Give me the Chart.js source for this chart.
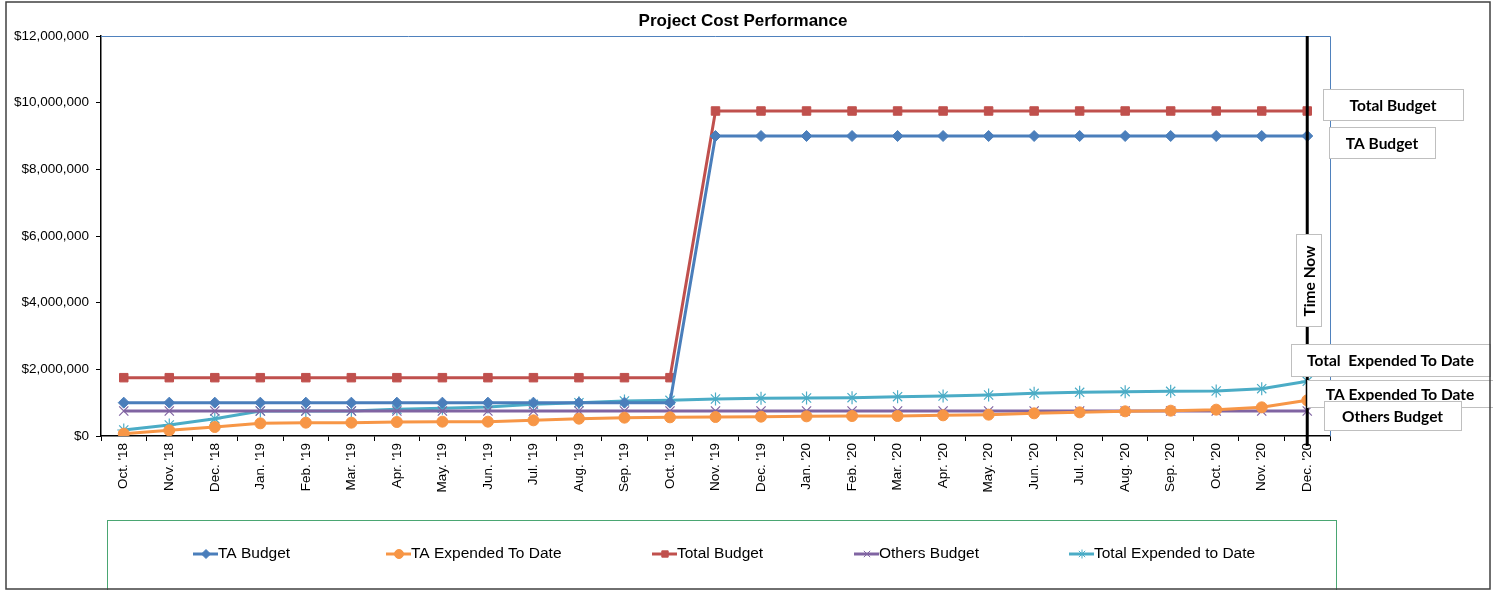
<!DOCTYPE html>
<html>
<head>
<meta charset="utf-8">
<script src="https://cdn.jsdelivr.net/npm/chart.js@4/dist/chart.umd.min.js"></script>
<style>
  html, body { margin: 0; padding: 0; background: #fff; }
  #wrap { width: 1493px; height: 590px; position: relative; }
</style>
</head>
<body>
<div id="wrap"><canvas id="myChart" width="1493" height="590"></canvas></div>
<script>
const meses = ["Oct. '18", "Nov. '18", "Dec. '18", "Jan. '19", "Feb. '19", "Mar. '19", "Apr. '19", "May. '19", "Jun. '19",
  "Jul. '19", "Aug. '19", "Sep. '19", "Oct. '19", "Nov. '19", "Dec. '19", "Jan. '20", "Feb. '20", "Mar. '20",
  "Apr. '20", "May. '20", "Jun. '20", "Jul. '20", "Aug. '20", "Sep. '20", "Oct. '20", "Nov. '20", "Dec. '20"];

const taBudget = [1000000, 1000000, 1000000, 1000000, 1000000, 1000000, 1000000, 1000000, 1000000,
  1000000, 1000000, 1000000, 1000000, 9000000, 9000000, 9000000, 9000000, 9000000,
  9000000, 9000000, 9000000, 9000000, 9000000, 9000000, 9000000, 9000000, 9000000];

const taExpended = [70000, 170000, 270000, 380000, 400000, 400000, 420000, 430000, 430000,
  470000, 520000, 550000, 560000, 570000, 580000, 590000, 600000, 600000,
  620000, 640000, 680000, 710000, 740000, 760000, 790000, 860000, 1070000];

const totalBudget = [1750000, 1750000, 1750000, 1750000, 1750000, 1750000, 1750000, 1750000, 1750000,
  1750000, 1750000, 1750000, 1750000, 9750000, 9750000, 9750000, 9750000, 9750000,
  9750000, 9750000, 9750000, 9750000, 9750000, 9750000, 9750000, 9750000, 9750000];

const othersBudget = [750000, 750000, 750000, 750000, 750000, 750000, 750000, 750000, 750000,
  750000, 750000, 750000, 750000, 750000, 750000, 750000, 750000, 750000,
  750000, 750000, 750000, 750000, 750000, 750000, 750000, 750000, 750000];

const totalExpended = [180000, 330000, 520000, 750000, 750000, 750000, 800000, 830000, 870000,
  950000, 1000000, 1050000, 1070000, 1110000, 1130000, 1140000, 1150000, 1180000,
  1200000, 1230000, 1280000, 1310000, 1330000, 1340000, 1350000, 1420000, 1640000];

const yTicks = [0, 2000000, 4000000, 6000000, 8000000, 10000000, 12000000];

const series = [
  { label: 'TA Budget', data: taBudget, color: '#4a7ebb', punto: 'rectRot', r: 5.5 },
  { label: 'TA Expended To Date', data: taExpended, color: '#f79646', punto: 'circle', r: 5.5 },
  { label: 'Total Budget', data: totalBudget, color: '#c0504d', punto: 'rect', r: 6 },
  { label: 'Others Budget', data: othersBudget, color: '#8064a2', punto: 'crossRot', r: 6.5 },
  { label: 'Total Expended to Date', data: totalExpended, color: '#4bacc6', punto: 'star', r: 6.5 }
];

// etiquetas a la derecha
const cajas = [
  { text: 'Total Budget', x: 1323, y: 89, w: 140, h: 31 },
  { text: 'TA Budget', x: 1329, y: 127, w: 106, h: 31 },
  { text: 'Total  Expended To Date', x: 1291, y: 344, w: 199, h: 32 },
  { text: 'TA Expended To Date', x: 1307, y: 380, w: 186, h: 27 },
  { text: 'Others Budget', x: 1324, y: 401, w: 137, h: 29 }
];

const extras = {
  id: 'extras',
  afterDraw(chart) {
    const ctx = chart.ctx;
    const a = chart.chartArea;
    const xs = chart.scales.x;
    ctx.save();

    // borde del area de trazado (arriba y derecha)
    ctx.strokeStyle = '#4f81bd';
    ctx.lineWidth = 1;
    ctx.beginPath();
    ctx.moveTo(a.left, a.top + 0.5);
    ctx.lineTo(a.right + 0.5, a.top + 0.5);
    ctx.lineTo(a.right + 0.5, a.bottom);
    ctx.stroke();

    // titulo
    ctx.fillStyle = '#000';
    ctx.font = 'bold 17px "Liberation Sans", Arial, sans-serif';
    ctx.textAlign = 'center';
    ctx.textBaseline = 'middle';
    ctx.fillText('Project Cost Performance', 743, 21);

    // linea Time Now
    const xNow = xs.getPixelForValue(meses.length - 1);
    ctx.strokeStyle = '#000';
    ctx.lineWidth = 3;
    ctx.beginPath();
    ctx.moveTo(xNow, a.top);
    ctx.lineTo(xNow, a.bottom + 10);
    ctx.stroke();

    ctx.font = 'bold 15.5px Lato, "Open Sans", sans-serif';
    ctx.lineWidth = 1;
    ctx.strokeStyle = '#bfbfbf';
    ctx.fillStyle = '#fff';
    ctx.fillRect(1296, 234, 26, 93);
    ctx.strokeRect(1296.5, 234.5, 25, 92);
    ctx.save();
    ctx.translate(1310, 281);
    ctx.rotate(-Math.PI / 2);
    ctx.fillStyle = '#000';
    ctx.fillText('Time Now', 0, 0);
    ctx.restore();

    cajas.forEach(c => {
      ctx.fillStyle = '#fff';
      ctx.fillRect(c.x, c.y, c.w, c.h);
      ctx.strokeStyle = '#bfbfbf';
      ctx.strokeRect(c.x + 0.5, c.y + 0.5, c.w, c.h);
      ctx.fillStyle = '#000';
      ctx.fillText(c.text, c.x + c.w / 2, c.y + c.h / 2 + 1);
    });

    // leyenda
    ctx.strokeStyle = '#4aa672';
    ctx.strokeRect(107.5, 520.5, 1229, 80);
    const posLeyenda = [218, 411, 677, 879, 1094];
    ctx.font = '15.5px "Liberation Sans", Arial, sans-serif';
    ctx.textAlign = 'left';
    series.forEach((s, i) => {
      const xt = posLeyenda[i];
      ctx.strokeStyle = s.color;
      ctx.lineWidth = 3;
      ctx.beginPath();
      ctx.moveTo(xt - 25, 554);
      ctx.lineTo(xt, 554);
      ctx.stroke();
      ctx.fillStyle = s.color;
      ctx.lineWidth = 1;
      Chart.helpers.drawPoint(ctx, {
        pointStyle: s.punto, radius: 4.5, rotation: 0, borderWidth: 1
      }, xt - 12, 554);
      ctx.fillStyle = '#000';
      ctx.fillText(s.label, xt, 554);
    });

    // marco exterior
    ctx.strokeStyle = '#404040';
    ctx.lineWidth = 1.5;
    ctx.strokeRect(6, 2, 1484, 587);
    ctx.restore();
  }
};

var ctx = document.getElementById('myChart').getContext('2d');
var chart = new Chart(ctx, {
  type: 'line',
  data: {
    labels: meses,
    datasets: series.map(s => ({
      label: s.label,
      data: s.data,
      borderColor: s.color,
      backgroundColor: s.color,
      borderWidth: 3,
      pointStyle: s.punto,
      pointRadius: s.r,
      pointBorderWidth: (s.punto === 'crossRot' || s.punto === 'star') ? 1.2 : 1,
      tension: 0,
      fill: false
    }))
  },
  options: {
    responsive: false,
    animation: false,
    layout: { padding: { top: 36, left: 0, right: 163, bottom: 0 } },
    plugins: {
      legend: { display: false },
      tooltip: { enabled: false }
    },
    scales: {
      x: {
        offset: true,
        afterFit: s => { s.height = 154; },
        border: { color: '#000', width: 1.5 },
        grid: { offset: true, drawOnChartArea: false, color: '#000', tickLength: 5 },
        ticks: {
          minRotation: 90, maxRotation: 90, autoSkip: false, padding: 2,
          color: '#000', font: { family: '"Liberation Sans", Arial, sans-serif', size: 13.5 }
        }
      },
      y: {
        min: 0, max: 12000000,
        afterFit: s => { s.width = 101; },
        afterBuildTicks: s => { s.ticks = yTicks.map(v => ({ value: v })); },
        border: { color: '#000', width: 1.5 },
        grid: { drawOnChartArea: false, color: '#000', tickLength: 5 },
        ticks: {
          padding: 7, color: '#000',
          font: { family: '"Liberation Sans", Arial, sans-serif', size: 13.5 },
          callback: v => '$' + v.toLocaleString('en-US')
        }
      }
    }
  },
  plugins: [extras]
});
</script>
</body>
</html>
